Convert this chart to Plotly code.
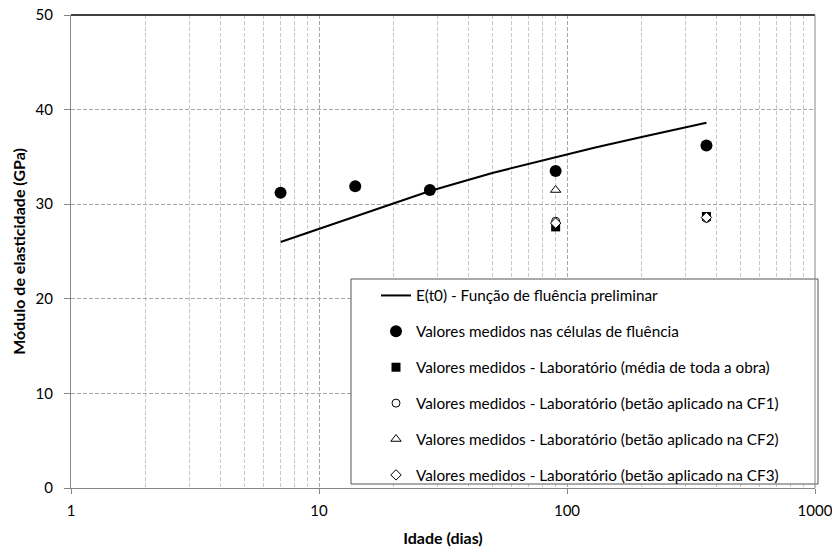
import plotly.graph_objects as go

# Data
line_x = [7, 10, 14, 20, 28, 50, 90, 130, 200, 365]
line_y = [26.0, 27.4, 28.7, 30.1, 31.4, 33.3, 35.0, 36.0, 37.1, 38.6]

cell_x = [7, 14, 28, 90, 365]
cell_y = [31.2, 31.9, 31.5, 33.5, 36.2]

lab_mean_x = [90, 365]
lab_mean_y = [27.6, 28.7]

cf1_x = [90, 365]
cf1_y = [28.2, 28.5]

cf2_x = [90]
cf2_y = [31.5]

cf3_x = [90, 365]
cf3_y = [28.0, 28.6]

names = [
    "E(t0) - Função de fluência preliminar",
    "Valores medidos nas células de fluência",
    "Valores medidos - Laboratório (média de toda a obra)",
    "Valores medidos - Laboratório (betão aplicado na CF1)",
    "Valores medidos - Laboratório (betão aplicado na CF2)",
    "Valores medidos - Laboratório (betão aplicado na CF3)",
]

FONT = "Lato, 'Liberation Sans Narrow', sans-serif"

# The page body has an 8px margin, so the figure is drawn 8px in from the window's corner.
OFF = 8
FW, FH = 840 - OFF, 547 - OFF
# plot area in window pixels
L, R, T, B = 71, 815, 15, 488
W, H = R - L, B - T

def px_x(p):
    return (p - L) / W

def px_y(p):
    return (B - p) / H

fig = go.Figure()
fig.add_trace(go.Scatter(x=line_x, y=line_y, mode="lines", name=names[0],
                         line=dict(color="black", width=2), legendgroup="a"))
fig.add_trace(go.Scatter(x=cell_x, y=cell_y, mode="markers", name=names[1],
                         marker=dict(symbol="circle", size=12, color="black"), legendgroup="b"))
fig.add_trace(go.Scatter(x=lab_mean_x, y=lab_mean_y, mode="markers", name=names[2],
                         marker=dict(symbol="square", size=9, color="black"), legendgroup="c"))
fig.add_trace(go.Scatter(x=cf1_x, y=cf1_y, mode="markers", name=names[3],
                         marker=dict(symbol="circle", size=8, color="white",
                                     line=dict(color="black", width=1)), legendgroup="d"))
fig.add_trace(go.Scatter(x=cf2_x, y=cf2_y, mode="markers", name=names[4],
                         marker=dict(symbol="triangle-up", size=9, color="white",
                                     line=dict(color="black", width=1)), legendgroup="e"))
fig.add_trace(go.Scatter(x=cf3_x, y=cf3_y, mode="markers", name=names[5],
                         marker=dict(symbol="diamond", size=8, color="white",
                                     line=dict(color="black", width=1)), legendgroup="f"))

DASH = "4px,2px"

fig.update_layout(
    width=FW, height=FH,
    margin=dict(l=L - OFF, r=840 - R, t=T - OFF, b=547 - B),
    paper_bgcolor="white", plot_bgcolor="white",
    font=dict(family=FONT, size=14, color="black"),
    showlegend=True,
    legend=dict(x=px_x(376), y=px_y(279), xanchor="left", yanchor="top",
                bgcolor="rgba(0,0,0,0)", borderwidth=0,
                font=dict(family=FONT, size=15.3, color="black"),
                tracegroupgap=13, itemwidth=30),
    xaxis=dict(
        type="log", range=[0, 3], automargin=False,
        tickvals=[1, 10, 100, 1000], ticktext=["1", "10", "100", "1000"],
        showgrid=True, gridcolor="#a6a6a6", griddash=DASH, gridwidth=1,
        minor=dict(showgrid=True, gridcolor="#c8c8c8", griddash=DASH,
                   dtick="D1", ticks=""),
        showline=True, linecolor="#868686", linewidth=1,
        ticks="outside", ticklen=5, tickcolor="#868686",
        ticklabelstandoff=4, ticklabeloverflow="allow",
        zeroline=False,
        title=dict(text="<b>Idade (dias)</b>", font=dict(size=16), standoff=14),
        tickfont=dict(size=15),
    ),
    yaxis=dict(
        range=[0, 50], dtick=10, automargin=False,
        showgrid=True, gridcolor="#a6a6a6", griddash=DASH, gridwidth=1,
        showline=True, linecolor="#868686", linewidth=1,
        ticks="outside", ticklen=6, tickcolor="#868686",
        ticklabelstandoff=8, ticklabeloverflow="allow",
        zeroline=False,
        title=dict(text="<b>Módulo de elasticidade (GPa)</b>", font=dict(size=16), standoff=5),
        tickfont=dict(size=15),
    ),
)

# legend box
fig.add_shape(type="rect", xref="paper", yref="paper",
              x0=px_x(351), x1=px_x(818), y0=px_y(484), y1=px_y(279),
              fillcolor="white", line=dict(color="#555555", width=1), layer="above")
# top and right frame lines
fig.add_shape(type="line", xref="paper", yref="paper", x0=0, x1=1, y0=1, y1=1,
              line=dict(color="black", width=1.5))
fig.add_shape(type="line", xref="paper", yref="paper", x0=1, x1=1, y0=0, y1=1,
              line=dict(color="#868686", width=1))

fig.write_html("out.html")
